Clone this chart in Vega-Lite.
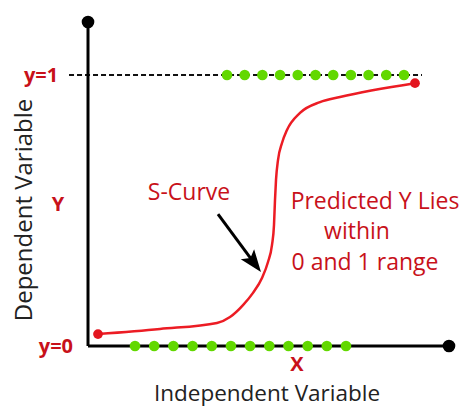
{
  "$schema": "https://vega.github.io/schema/vega-lite/v6.json",
  "width": 463,
  "height": 408,
  "autosize": {"type": "fit", "contains": "padding"},
  "padding": 0,
  "background": "white",
  "config": {"view": {"stroke": null}},
  "datasets": {
    "curve": [
      {"x": 2.77, "y": 0.044}, {"x": 19.94, "y": 0.063}, {"x": 35.73, "y": 0.085},
      {"x": 39.34, "y": 0.107}, {"x": 42.94, "y": 0.151}, {"x": 45.71, "y": 0.196},
      {"x": 48.2, "y": 0.251}, {"x": 49.86, "y": 0.31}, {"x": 50.97, "y": 0.373},
      {"x": 51.52, "y": 0.446}, {"x": 51.8, "y": 0.539}, {"x": 52.08, "y": 0.613},
      {"x": 52.63, "y": 0.686}, {"x": 53.74, "y": 0.749}, {"x": 55.12, "y": 0.797},
      {"x": 58.73, "y": 0.86}, {"x": 64.27, "y": 0.9}, {"x": 69.81, "y": 0.919},
      {"x": 90.58, "y": 0.97}
    ],
    "ends": [{"x": 2.77, "y": 0.044}, {"x": 90.58, "y": 0.97}],
    "topDots": [
      {"x": 38.5, "y": 1}, {"x": 43.4, "y": 1}, {"x": 48.31, "y": 1}, {"x": 53.21, "y": 1},
      {"x": 58.11, "y": 1}, {"x": 63.02, "y": 1}, {"x": 67.92, "y": 1}, {"x": 72.82, "y": 1},
      {"x": 77.72, "y": 1}, {"x": 82.63, "y": 1}, {"x": 87.53, "y": 1}
    ],
    "bottomDots": [
      {"x": 13.02, "y": 0}, {"x": 18.33, "y": 0}, {"x": 23.65, "y": 0}, {"x": 28.96, "y": 0},
      {"x": 34.28, "y": 0}, {"x": 39.59, "y": 0}, {"x": 44.9, "y": 0}, {"x": 50.22, "y": 0},
      {"x": 55.53, "y": 0}, {"x": 60.85, "y": 0}, {"x": 66.16, "y": 0}, {"x": 71.47, "y": 0}
    ],
    "axisEnds": [{"x": 0, "y": 1.1956}, {"x": 100, "y": 0}],
    "boldLabels": [
      {"x": -13.02, "y": 0.995, "label": "y=1"},
      {"x": -8.9, "y": -0.005, "label": "y=0"},
      {"x": -8.31, "y": 0.52, "label": "Y"},
      {"x": 57.89, "y": -0.07, "label": "X"}
    ],
    "notes": [
      {"x": 27.98, "y": 0.565, "label": "S-Curve"},
      {"x": 79.5, "y": 0.531, "label": "Predicted Y Lies"},
      {"x": 74.52, "y": 0.421, "label": "within"},
      {"x": 76.73, "y": 0.306, "label": "0 and 1 range"}
    ]
  },
  "encoding": {
    "x": {"field": "x", "type": "quantitative", "scale": {"domain": [-24.38, 103.88], "nice": false, "zero": false}, "axis": null},
    "y": {"field": "y", "type": "quantitative", "scale": {"domain": [-0.2288, 1.2768], "nice": false, "zero": false}, "axis": null}
  },
  "layer": [
    {
      "data": {"values": [{"x": -5.26, "x2": 92.52, "y": 1}]},
      "mark": {"type": "rule", "color": "#111111", "strokeWidth": 2.2, "strokeDash": [5, 3]},
      "encoding": {"x2": {"field": "x2"}}
    },
    {
      "data": {"values": [{"x": 0, "y": 0, "y2": 1.1956}]},
      "mark": {"type": "rule", "color": "#000000", "strokeWidth": 3},
      "encoding": {"y2": {"field": "y2"}}
    },
    {
      "data": {"values": [{"x": 0, "x2": 100, "y": 0}]},
      "mark": {"type": "rule", "color": "#000000", "strokeWidth": 3},
      "encoding": {"x2": {"field": "x2"}}
    },
    {
      "data": {"name": "topDots"},
      "mark": {"type": "circle", "color": "#62d800", "opacity": 1, "size": 113}
    },
    {
      "data": {"name": "bottomDots"},
      "mark": {"type": "circle", "color": "#62d800", "opacity": 1, "size": 113}
    },
    {
      "data": {"name": "curve"},
      "mark": {"type": "line", "color": "#ec1c24", "strokeWidth": 2.5, "interpolate": "monotone"}
    },
    {
      "data": {"name": "ends"},
      "mark": {"type": "circle", "color": "#e3151f", "opacity": 1, "size": 95}
    },
    {
      "data": {"name": "axisEnds"},
      "mark": {"type": "circle", "color": "#000000", "opacity": 1, "size": 160}
    },
    {
      "data": {"values": [{"x": 36.01, "y": 0.487, "x2": 45.43, "y2": 0.317}]},
      "mark": {"type": "rule", "color": "#000000", "strokeWidth": 3},
      "encoding": {"x2": {"field": "x2"}, "y2": {"field": "y2"}}
    },
    {
      "data": {"values": [{"x": 45.57, "y": 0.314}]},
      "mark": {"type": "point", "shape": "M0,-1L0.6,0.6L0,0.25L-0.6,0.6Z", "filled": true, "color": "#000000", "opacity": 1, "size": 784, "angle": 142.8}
    },
    {
      "data": {"name": "boldLabels"},
      "mark": {"type": "text", "font": "Open Sans", "fontWeight": "bold", "fontSize": 20, "color": "#c8111a", "align": "center", "baseline": "middle"},
      "encoding": {"text": {"field": "label"}}
    },
    {
      "data": {"name": "notes"},
      "mark": {"type": "text", "font": "Open Sans", "fontSize": 23, "color": "#c8111a", "align": "center", "baseline": "middle"},
      "encoding": {"text": {"field": "label"}}
    },
    {
      "data": {"values": [{"x": -17.45, "y": 0.502, "label": "Dependent Variable"}]},
      "mark": {"type": "text", "font": "Open Sans", "fontSize": 24, "color": "#222222", "align": "center", "baseline": "middle", "angle": 270},
      "encoding": {"text": {"field": "label"}}
    },
    {
      "data": {"values": [{"x": 49.58, "y": -0.203, "label": "Independent Variable"}]},
      "mark": {"type": "text", "font": "Open Sans", "fontSize": 22.5, "color": "#222222", "align": "center", "baseline": "alphabetic"},
      "encoding": {"text": {"field": "label"}}
    }
  ]
}
